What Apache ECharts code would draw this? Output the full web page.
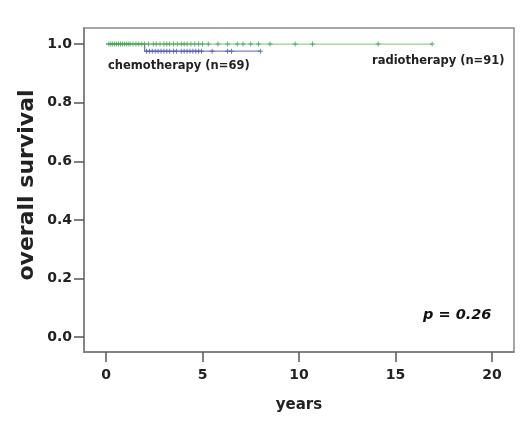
<!DOCTYPE html>
<html><head><meta charset="utf-8">
<script src="https://cdn.jsdelivr.net/npm/echarts@6/dist/echarts.min.js"></script>
<style>html,body{margin:0;padding:0;background:#fff}#c{width:520px;height:427px}</style>
</head><body><div id="c"></div>
<script>
// Kaplan-Meier curves (time in years, survival proportion)
const radioCurve = [[0, 1.0], [16.9, 1.0]];
const chemoCurve = [[0, 1.0], [2.0, 1.0], [2.0, 0.976], [8.0, 0.976]];
// censored observations (years)
const radioCensored = [0.15,0.25,0.35,0.45,0.55,0.65,0.75,0.85,0.95,1.05,1.15,1.25,1.4,1.55,1.7,1.85,2.0,2.2,2.45,2.6,2.8,3.0,3.15,3.3,3.5,3.7,3.9,4.05,4.2,4.4,4.6,4.8,5.0,5.3,5.8,6.3,6.8,7.1,7.5,7.9,8.5,9.8,10.7,14.1,16.9];
const chemoCensored = [2.1,2.25,2.4,2.55,2.7,2.85,3.0,3.15,3.3,3.5,3.65,3.9,4.05,4.2,4.35,4.5,4.65,4.8,4.95,5.5,6.3,6.5,8.0];
const chemoLevel = 0.976;
const radioLevel = 1.0;
const xTicks = [0, 5, 10, 15, 20];
const yTicks = [0, 0.2, 0.4, 0.6, 0.8, 1.0];

const F = '"DejaVu Sans"';
const plus = 'path://M-0.6,-3H0.6V-0.6H3V0.6H0.6V3H-0.6V0.6H-3V-0.6H-0.6Z';
const chart = echarts.init(document.getElementById('c'));
chart.setOption({
  animation: false,
  grid: { left: 84, right: 6, top: 28, bottom: 75, show: true, borderColor: '#8a8a8a', borderWidth: 1.5, backgroundColor: 'transparent' },
  xAxis: {
    type: 'value', min: -1.14, max: 21.14,
    splitLine: { show: false },
    axisLine: { show: true, onZero: false, lineStyle: { color: '#7a7a7a', width: 1.5 } },
    axisTick: { show: true, customValues: xTicks, length: 10, lineStyle: { color: '#555', width: 1.5 } },
    axisLabel: { customValues: xTicks, fontFamily: F, fontWeight: 'bold', fontSize: 14, color: '#222', margin: 16 }
  },
  yAxis: {
    type: 'value', min: -0.051, max: 1.055,
    splitLine: { show: false },
    axisLine: { show: true, onZero: false, lineStyle: { color: '#7a7a7a', width: 1.5 } },
    axisTick: { show: true, customValues: yTicks, length: 10, lineStyle: { color: '#555', width: 1.5 } },
    axisLabel: { customValues: yTicks, formatter: v => v.toFixed(1), fontFamily: F, fontWeight: 'bold', fontSize: 14, color: '#222', margin: 12 }
  },
  series: [
    { type: 'line', data: chemoCurve, symbol: 'none', lineStyle: { color: '#7282c8', width: 1.3 }, z: 2 },
    { type: 'scatter', data: chemoCensored.map(t => [t, chemoLevel]), symbol: plus, symbolSize: 5, itemStyle: { color: '#4656b0' }, z: 3 },
    { type: 'line', data: radioCurve, symbol: 'none', lineStyle: { color: '#8fd48f', width: 1.3 }, z: 4 },
    { type: 'scatter', data: radioCensored.map(t => [t, radioLevel]), symbol: plus, symbolSize: 5, itemStyle: { color: '#3aa046' }, z: 5 }
  ],
  graphic: [
    { type: 'text', x: 27, y: 185, rotation: Math.PI / 2, style: { text: 'overall survival', font: 'bold 22px ' + F, fill: '#222', align: 'center', verticalAlign: 'middle' } },
    { type: 'text', x: 299, y: 405, style: { text: 'years', font: 'bold 15px ' + F, fill: '#222', align: 'center', verticalAlign: 'middle' } },
    { type: 'text', x: 108, y: 66, style: { text: 'chemotherapy (n=69)', font: 'bold 11.5px ' + F, fill: '#222', verticalAlign: 'middle' } },
    { type: 'text', x: 372, y: 61, style: { text: 'radiotherapy (n=91)', font: 'bold 11.5px ' + F, fill: '#222', verticalAlign: 'middle' } },
    { type: 'text', x: 423, y: 315, style: { text: 'p = 0.26', font: 'italic bold 14.5px ' + F, fill: '#111', verticalAlign: 'middle' } }
  ]
});
</script></body></html>
